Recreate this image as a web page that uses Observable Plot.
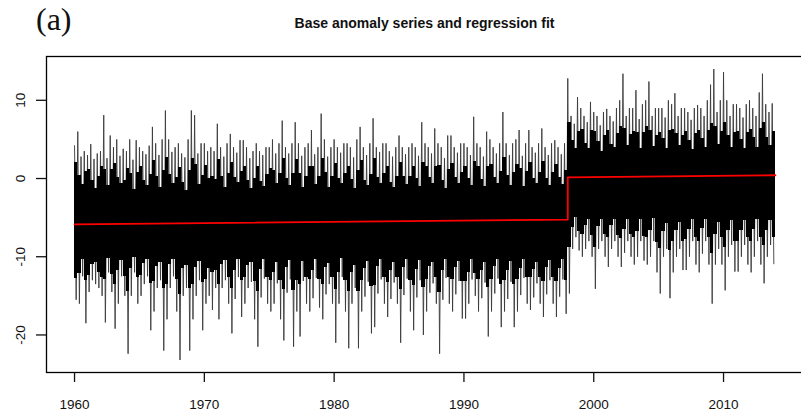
<!DOCTYPE html>
<html>
<head>
<meta charset="utf-8">
<script src="https://cdn.jsdelivr.net/npm/d3@7"></script>
<script src="https://cdn.jsdelivr.net/npm/@observablehq/plot@0.6"></script>
<style>
  body { margin: 0; background: #fff; }
  #wrap { position: relative; width: 801px; height: 418px; overflow: hidden; }
  #panel { position: absolute; left: 36px; top: 1px; font-family: "Liberation Serif", "Times New Roman", serif; font-size: 32px; color: #111; }
  #title { position: absolute; left: 46px; width: 757px; top: 15px; text-align: center; font: bold 14px "Liberation Sans", Arial, sans-serif; color: #111; }
  #chart { position: absolute; left: 0; top: 0; }
</style>
</head>
<body>
<div id="wrap">
  <div id="chart"></div>
  <div id="panel">(a)</div>
  <div id="title">Base anomaly series and regression fit</div>
</div>
<script>
// Quarterly extremes of the daily anomaly series, 1960 Q1 .. 2013 Q4 (four values per year)
const startYear = 1960;
const quarterHigh = [
  4.2, 6.0, 2.8, 3.5,   3.0, 4.4, 2.5, 3.2,   3.5, 8.1, 2.6, 5.5,   4.0, 5.0, 2.9, 3.8,
  3.5, 5.0, 2.4, 4.9,   4.0, 3.5, 3.1, 4.2,   6.6, 4.5, 3.0, 5.0,   8.7, 5.0, 3.4, 4.0,
  4.5, 3.2, 2.7, 5.0,   8.7, 8.1, 3.2, 4.5,   4.5, 3.5, 4.0, 3.5,   7.0, 4.0, 2.8, 4.5,
  5.7, 4.0, 3.3, 4.9,   4.9, 4.0, 2.6, 3.5,   4.5, 3.5, 3.0, 4.0,   4.0, 5.0, 3.2, 4.5,
  7.4, 4.0, 3.2, 4.5,   7.2, 4.5, 2.9, 4.0,   4.5, 6.2, 3.1, 4.0,   8.3, 5.0, 2.8, 4.0,
  5.0, 4.0, 3.3, 4.5,   4.5, 4.0, 2.7, 5.0,   6.6, 4.0, 3.0, 4.5,   7.7, 4.0, 3.4, 4.5,
  4.5, 3.5, 2.8, 4.0,   5.5, 4.0, 3.1, 4.0,   4.5, 4.0, 2.9, 7.2,   4.5, 4.0, 3.2, 6.4,
  4.5, 4.0, 2.6, 5.5,   5.5, 4.0, 3.3, 4.5,   4.5, 4.0, 3.0, 7.9,   4.5, 4.0, 2.8, 6.0,
  5.0, 4.0, 3.2, 4.5,   8.5, 4.5, 3.0, 4.5,   5.0, 6.2, 2.9, 4.5,   6.2, 4.0, 3.3, 4.5,
  6.4, 4.0, 3.0, 4.5,   4.9, 4.0, 3.1, 4.5,
  12.8, 8.0, 7.0, 10.4,  9.0, 8.0, 7.2, 9.8,  8.5, 8.0, 6.8, 8.5,   8.9, 8.0, 7.3, 9.0,
  10.0, 13.4, 8.0, 9.0,  9.0, 11.3, 7.6, 9.5, 10.0, 12.4, 8.0, 9.0, 9.0, 9.0, 7.8, 10.0,
  9.5, 10.9, 8.0, 9.0,   9.0, 8.5, 7.5, 9.0,  9.4, 9.0, 8.0, 10.0,  12.0, 14.0, 8.5, 10.0,
  13.6, 10.0, 8.0, 9.5,  9.5, 9.0, 7.8, 9.5,  10.0, 9.0, 8.0, 11.0,  13.4, 9.5, 8.5, 9.6
];
const quarterLow = [
  -15.5, -16.0, -12.5, -18.5,  -14.5, -13.0, -13.5, -14.0,  -15.0, -18.4, -12.0, -14.5,  -19.2, -16.0, -12.5, -15.0,
  -22.4, -15.0, -12.0, -16.0,  -15.0, -13.5, -12.5, -19.4,  -17.0, -14.0, -13.0, -22.0,  -18.0, -14.0, -12.5, -17.0,
  -23.2, -15.0, -14.0, -22.0,  -18.0, -15.0, -13.0, -19.4,  -16.0, -15.0, -16.8, -14.0,  -18.0, -14.0, -13.0, -16.0,
  -19.8, -15.4, -12.6, -17.7,  -16.0, -14.0, -13.2, -18.0,  -21.5, -15.2, -12.8, -16.0,  -17.0, -16.0, -13.4, -18.0,
  -20.7, -14.6, -12.9, -21.5,  -17.0, -20.2, -13.1, -16.0,  -17.0, -15.3, -12.7, -16.5,  -18.0, -14.8, -13.5, -16.0,
  -21.0, -16.0, -12.6, -17.0,  -21.7, -16.0, -14.0, -21.7,  -17.0, -15.1, -13.2, -19.8,  -19.0, -14.7, -12.9, -16.0,
  -17.7, -15.4, -13.3, -16.0,  -21.0, -14.9, -12.8, -17.0,  -19.4, -15.2, -13.0, -20.0,  -17.0, -14.6, -13.4, -16.0,
  -22.4, -15.5, -12.7, -16.0,  -17.0, -14.8, -13.1, -17.9,  -17.9, -16.0, -12.9, -15.0,  -17.0, -15.3, -13.3, -20.2,
  -17.0, -14.7, -12.8, -19.0,  -17.0, -15.4, -13.2, -19.0,  -17.0, -14.9, -12.7, -16.0,  -16.8, -15.2, -13.4, -16.0,
  -17.7, -14.8, -13.0, -16.0,  -17.7, -15.1, -12.9, -17.3,
  -14.7, -9.0, -7.5, -9.2,   -10.0, -9.0, -8.0, -10.0,  -14.1, -9.0, -8.0, -10.0,  -11.3, -9.0, -8.0, -10.0,
  -11.3, -9.5, -8.0, -10.0,  -11.0, -10.0, -8.0, -10.5, -11.0, -10.0, -8.0, -12.0, -14.7, -10.0, -9.0, -15.3,
  -12.0, -10.0, -9.0, -11.7, -11.7, -10.0, -8.0, -11.0, -12.0, -9.6, -8.0, -11.0,  -16.0, -11.0, -9.0, -11.0,
  -14.3, -10.0, -8.5, -11.9, -11.9, -10.0, -8.5, -11.0, -12.0, -10.0, -8.0, -11.0,  -13.4, -10.0, -8.5, -10.9
];
// Quarterly edges of the dense bulk of daily values (upper and lower)
const bulkHigh = [
  2.0, 0.4, -0.8, 0.9,   1.2, -0.3, -1.3, 0.2,   1.6, 1.2, -0.9, 1.1,   1.9, 0.1, -0.6, -0.2,
  1.3, 0.6, -1.4, 0.8,   1.5, -0.2, -0.9, 0.5,   2.3, 0.3, -1.1, 1.0,   2.7, 0.5, -0.7, 0.1,
  1.4, -0.5, -1.5, 1.0,  2.6, 1.8, -0.8, 0.4,    1.7, 0.0, 0.2, -0.1,   2.4, 0.2, -1.2, 0.6,
  2.1, 0.1, -0.5, 0.9,   1.6, -0.2, -1.3, 0.0,   1.5, -0.4, -1.0, 0.5,  1.3, 1.0, -0.7, 0.7,
  2.5, 0.0, -0.9, 0.6,   2.4, 0.6, -1.1, 0.3,    1.5, 1.5, -0.8, 0.2,   2.6, 0.8, -1.2, 0.3,
  1.9, 0.0, -0.6, 0.7,   1.6, -0.1, -1.3, 1.0,   2.3, -0.2, -0.9, 0.5,  2.6, 0.1, -0.6, 0.6,
  1.5, -0.5, -1.2, 0.2,  2.0, 0.2, -0.8, 0.3,    1.5, 0.0, -1.0, 2.0,   1.6, 0.1, -0.7, 1.6,
  1.7, -0.2, -1.3, 1.2,  1.9, 0.1, -0.6, 0.8,    1.5, 0.0, -0.9, 2.2,   1.6, -0.1, -1.0, 1.5,
  1.8, 0.1, -0.7, 0.9,   2.7, 0.4, -0.9, 0.8,    1.8, 1.3, -1.0, 0.9,   2.1, 0.0, -0.6, 0.8,
  2.2, 0.0, -0.9, 0.8,   1.8, 0.1, -0.8, 1.0,
  7.2, 4.8, 3.8, 6.0,    6.3, 4.5, 3.9, 6.1,     6.0, 4.7, 3.4, 5.5,    6.2, 4.4, 4.0, 5.7,
  6.6, 6.4, 4.2, 5.6,    6.0, 5.9, 3.9, 5.9,     6.6, 6.1, 4.1, 5.5,    5.9, 5.1, 3.9, 6.2,
  6.3, 5.7, 4.2, 5.5,    6.0, 4.9, 3.7, 5.7,     6.2, 5.1, 4.0, 6.1,    7.0, 6.7, 4.3, 6.0,
  7.2, 5.5, 4.0, 5.9,    6.0, 5.0, 3.8, 5.9,     6.3, 5.2, 4.0, 6.4,    7.1, 5.3, 4.2, 6.0
];
const bulkLow = [
  -12.8, -12.2, -10.4, -13.0,  -12.4, -11.0, -10.8, -12.0,  -12.6, -12.9, -10.2, -12.3,  -13.6, -11.8, -10.5, -12.5,
  -14.4, -11.5, -10.1, -12.7,  -12.4, -10.9, -10.4, -13.4,  -13.2, -11.2, -10.7, -14.0,  -13.6, -11.0, -10.4, -12.9,
  -14.8, -11.5, -11.1, -14.0,  -13.6, -11.4, -10.6, -13.3,  -12.9, -11.5, -12.0, -11.8,  -13.6, -11.0, -10.5, -12.6,
  -14.0, -11.7, -10.3, -13.1,  -12.7, -11.1, -10.7, -13.2,  -14.4, -11.6, -10.4, -12.6,  -13.0, -12.0, -10.8, -13.1,
  -14.2, -11.4, -10.5, -14.3,  -13.0, -13.5, -10.6, -12.6,  -12.9, -11.7, -10.3, -12.9,  -13.5, -11.4, -10.9, -12.6,
  -14.2, -12.0, -10.2, -13.0,  -14.4, -12.0, -11.1, -14.4,  -13.0, -11.5, -10.6, -13.8,  -13.7, -11.3, -10.4, -12.6,
  -13.3, -11.7, -10.7, -12.6,  -14.2, -11.4, -10.4, -13.0,  -13.7, -11.6, -10.5, -13.9,  -12.9, -11.3, -10.8, -12.6,
  -14.6, -11.8, -10.3, -12.6,  -12.9, -11.4, -10.6, -13.2,  -13.2, -12.0, -10.4, -12.2,  -12.9, -11.7, -10.7, -13.9,
  -12.9, -11.3, -10.4, -13.6,  -13.1, -11.7, -10.6, -13.6,  -12.9, -11.5, -10.3, -12.6,  -12.7, -11.6, -10.8, -12.6,
  -13.2, -11.4, -10.5, -12.6,  -13.2, -11.5, -10.4, -13.0,
  -8.8, -6.2, -5.0, -6.8,      -7.2, -6.0, -5.3, -7.3,      -8.8, -6.1, -5.2, -7.2,      -7.6, -6.0, -5.3, -7.3,
  -7.7, -6.5, -5.2, -7.2,      -7.5, -6.8, -5.3, -7.4,      -7.6, -6.6, -5.1, -8.2,      -9.0, -6.8, -5.7, -9.2,
  -8.0, -6.6, -5.6, -8.0,      -7.8, -6.5, -5.3, -7.6,      -8.0, -6.4, -5.2, -7.5,      -9.6, -7.1, -5.6, -7.6,
  -8.8, -6.6, -5.4, -8.1,      -8.0, -6.7, -5.4, -7.5,      -8.0, -6.5, -5.3, -7.6,      -8.5, -6.6, -5.4, -7.5
];
// Piecewise linear regression fit with a break at 1998
const fitYears = [1960, 1998, 1998, 2014];
const fitValues = [-5.85, -5.25, 0.15, 0.42];
const xTicks = [1960, 1970, 1980, 1990, 2000, 2010];
const yTicks = [-20, -10, 0, 10];

const spikes = quarterHigh.flatMap((h, i) => [
  {t: startYear + i / 4, v: h},
  {t: startYear + i / 4 + 0.125, v: quarterLow[i]}
]);
const bulk = bulkHigh.map((h, i) => ({t0: startYear + i / 4, t1: startYear + (i + 1) / 4, hi: h, lo: bulkLow[i]}));
const fit = fitYears.map((t, i) => ({t, v: fitValues[i]}));

const chart = Plot.plot({
  width: 801,
  height: 418,
  marginLeft: 46,
  marginRight: -2,
  marginTop: 56,
  marginBottom: 46,
  x: {domain: [1957.84, 2016.16]},
  y: {domain: [-24.8, 15.6]},
  style: {fontFamily: "'Liberation Sans', Arial, sans-serif", fontSize: "13.5px", color: "#111", background: "white"},
  marks: [
    Plot.line(spikes, {x: "t", y: "v", stroke: "#3a3a3a", strokeWidth: 0.9}),
    Plot.rect(bulk, {x1: "t0", x2: "t1", y1: "lo", y2: "hi", fill: "#000", shapeRendering: "crispEdges"}),
    Plot.line(fit, {x: "t", y: "v", stroke: "#f00", strokeWidth: 1.8}),
    Plot.frame({stroke: "#000", strokeWidth: 1.3}),
    Plot.axisX({ticks: xTicks, tickSize: 10, tickPadding: 17, tickFormat: d => String(d), label: null, strokeWidth: 1.3}),
    Plot.axisY({ticks: yTicks, tickSize: 10, tickFormat: () => "", label: null, strokeWidth: 1.3}),
    Plot.text(yTicks, {y: d => d, frameAnchor: "left", dx: -26, rotate: -90, text: d => String(d), textAnchor: "middle", fill: "#111"})
  ]
});
document.getElementById("chart").append(chart);
</script>
</body>
</html>
